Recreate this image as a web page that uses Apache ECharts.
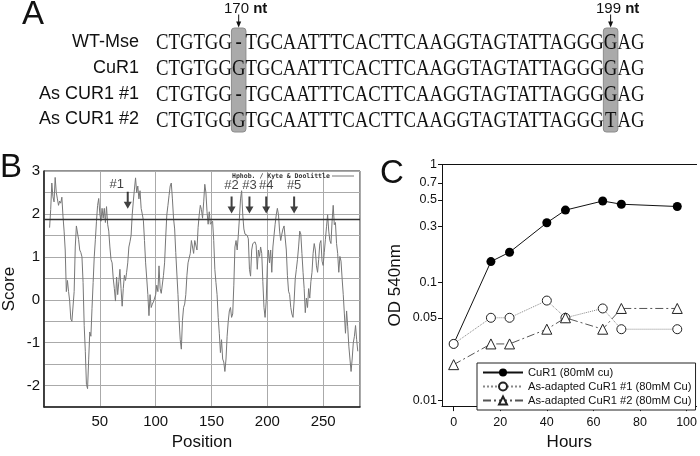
<!DOCTYPE html>
<html>
<head>
<meta charset="utf-8">
<script src="https://cdn.jsdelivr.net/npm/echarts@6/dist/echarts.min.js"></script>
<style>
  html, body { margin: 0; padding: 0; background: #fff; }
  #main { width: 700px; height: 456px; }
</style>
</head>
<body>
<div id="main"></div>
<script>
// ---- panel A: alignment ----
var rowNames = ['WT-Mse', 'CuR1', 'As CUR1 #1', 'As CUR1 #2'];
var sequences = [
  'CTGTGG-TGCAATTTCACTTCAAGGTAGTATTAGGGGAG',
  'CTGTGGGTGCAATTTCACTTCAAGGTAGTATTAGGGGAG',
  'CTGTGG-TGCAATTTCACTTCAAGGTAGTATTAGGGGAG',
  'CTGTGGGTGCAATTTCACTTCAAGGTAGTATTAGGGTAG'
];
var siteIndex = [6, 36];
var siteLabel = ['170', '199'];

// ---- panel B: Kyte & Doolittle hydrophobicity, positions 5..281 ----
var firstPos = 5;
var hydroScores = [
  1.68, 2.1, 2.72, 2.4, 2.28, 2.85, 2.5, 2.35, 2.2, 2.3,
  2.25, 2.39, 1.95, 1.6, 1.16, 0.19, 0.45, 0.19, -0.03, -0.45,
  -0.5, -0.48, 0.19, 1.23, 1.72, 1.68, 1.4, 1.16, 1.1, 1.0,
  0.4, -0.6, -1.2, -1.97, -2.07, -1.4, -0.75, -0.85, -0.2, 0.4,
  1.0, 1.4, 1.83, 2.2, 2.36, 2.0, 1.83, 2.13, 1.9, 2.13,
  1.8, 2.17, 1.76, 1.6, 1.23, 0.94, 0.86, 0.5, 0.26, -0.03,
  0.53, 0.12, 0.42, 0.71, 0.26, -0.15, 0.26, 0.57, 0.45, 0.64,
  0.86, 1.23, 1.35, 1.5, 1.98, 2.3, 2.58, 2.84, 2.5, 2.65,
  2.35, 2.54, 2.13, 2.0, 1.85, 1.38, 0.86, 0.5, 0.12, -0.37,
  0.12, -0.18, -0.1, -0.05, -0.03, 0.12, 0.34, 0.19, 0.79, 0.26,
  0.15, 0.15, 0.57, 0.86, 1.46, 1.98, 2.2, 2.43, 2.65, 2.72,
  2.35, 1.9, 1.65, 1.1, 0.6, 0.12, -0.48, -0.93, -1.15, -0.48,
  -0.18, -0.1, 0.12, 0.57, 0.86, 0.86, 1.08, 1.38, 1.42, 1.08,
  1.38, 1.38, 1.16, 1.68, 1.98, 2.2, 2.1, 1.9, 2.28, 2.69,
  2.5, 2.05, 1.76, 2.05, 1.76, 1.8, 1.83, 1.38, 0.71, 0.4,
  0.12, -0.41, -0.78, -1.23, -0.93, -1.38, -1.45, -1.67, -1.38, -0.85,
  -0.5, -0.26, -0.18, -0.41, -0.33, 0.34, 1.23, 1.38, 1.16, 1.5,
  1.9, 2.35, 2.54, 1.98, 1.65, 1.53, 1.53, 1.5, 1.42, 0.71,
  0.55, 1.16, 1.31, 1.35, 1.35, 1.27, 0.71, 1.16, 1.01, 1.23,
  1.08, 0.42, -0.18, -0.41, -0.03, 0.79, 1.16, 0.86, 1.16, 0.64,
  1.23, 1.5, 1.76, 1.98, 2.13, 1.98, 1.6, 1.38, 1.53, 1.65,
  1.72, 1.76, 1.16, 0.57, 0.2, 0.12, -0.18, -0.33, -0.41, -0.03,
  0.49, 0.71, 0.94, 1.23, 1.6, 1.53, 1.08, 0.64, 0.26, -0.3,
  0.04, -0.18, 0.26, 0.04, 0.42, 0.64, 1.08, 1.31, 1.16, 0.79,
  0.64, 0.94, 1.31, 1.38, 0.9, 0.8, 1.1, 1.4, 1.7, 1.98,
  1.6, 1.38, 1.31, 1.83, 2.2, 1.75, 1.8, 1.31, 1.08, 0.64,
  1.01, 0.9, 0.49, 0.12, -0.33, -0.78, -0.26, -0.63, -1.08, -1.38,
  -1.67, -1.38, -1.0, -0.85, -0.6, -0.93, -1.2
];
var cutoff = 1.87;
var arrowLabels = ['#1', '#2', '#3', '#4', '#5'];
var arrowPos = [75, 168, 184, 199, 224];
var arrowScore = [2.32, 2.21, 2.21, 2.21, 2.21];

// ---- panel C: growth curves ----
var hours = [0, 16, 24, 40, 48, 64, 72, 96];
var cur1 = [0.03, 0.15, 0.18, 0.32, 0.41, 0.49, 0.46, 0.44];
var adapted1 = [0.03, 0.05, 0.05, 0.07, 0.05, 0.06, 0.04, 0.04];
var adapted2 = [0.02, 0.03, 0.03, 0.04, 0.05, 0.04, 0.06, 0.06];
var seriesNames = ['CuR1 (80mM cu)', 'As-adapted CuR1 #1 (80mM Cu)', 'As-adapted CuR1 #2 (80mM Cu)'];
var hourTicks = [0, 20, 40, 60, 80, 100];
var odTicks = [0.01, 0.05, 0.1, 0.3, 0.5, 0.7, 1];
var odMin = 0.0089;

var SANS = 'Liberation Sans';
var SERIF = "'Liberation Serif', 'Times New Roman', 'DejaVu Serif', serif";
var SX = 0.78;
var ctx = document.createElement('canvas').getContext('2d');
ctx.font = '24px ' + SERIF;
function textW(s) { return ctx.measureText(s).width * SX; }

var seqX0 = 156;
var rowY = [42, 68, 94, 119.5];
var colW = textW('G');

function layoutRow(seq) {
  var parts = [], x = seqX0, prev = 0, cols = [];
  siteIndex.forEach(function (idx) {
    var s = seq.slice(prev, idx);
    parts.push({ text: s, x: x, align: 'left' });
    x += textW(s);
    cols.push(x);
    parts.push({ text: seq[idx], x: x + colW / 2, align: 'center' });
    x += colW;
    prev = idx + 1;
  });
  parts.push({ text: seq.slice(prev), x: x, align: 'left' });
  return { parts: parts, cols: cols };
}

var elements = [];
var cols = layoutRow(sequences[0]).cols;
cols.forEach(function (cx, i) {
  var mid = cx + colW / 2;
  elements.push({
    type: 'rect', z: 1,
    shape: { x: cx - 0.5, y: 28, width: colW + 1, height: 104, r: 3 },
    style: { fill: '#aaaaaa', stroke: '#8c8c8c', lineWidth: 1 }
  });
  elements.push({
    type: 'line', z: 2,
    shape: { x1: mid, y1: 14.5, x2: mid, y2: 23 },
    style: { stroke: '#111', lineWidth: 1 }
  });
  elements.push({
    type: 'polygon', z: 2,
    shape: { points: [[mid - 2.5, 21.5], [mid + 2.5, 21.5], [mid, 27.5]] },
    style: { fill: '#111' }
  });
  elements.push({
    type: 'text', z: 2, x: mid + 7, y: 8.5,
    style: {
      text: '{n|' + siteLabel[i] + '} {b|nt}',
      align: 'center', verticalAlign: 'middle', fill: '#111',
      fontSize: 15, fontFamily: SANS,
      rich: {
        n: { fontSize: 15, fontFamily: SANS, fill: '#111' },
        b: { fontSize: 15, fontFamily: SANS, fontWeight: 'bold', fill: '#111' }
      }
    }
  });
});
sequences.forEach(function (seq, r) {
  elements.push({
    type: 'text', z: 2, x: 139, y: rowY[r],
    style: { text: rowNames[r], fontSize: 18, fontFamily: SANS, fill: '#111', align: 'right', verticalAlign: 'middle' }
  });
  layoutRow(seq).parts.forEach(function (p) {
    elements.push({
      type: 'text', z: 3, x: p.x, y: rowY[r] + 1, scaleX: SX,
      style: { text: p.text, font: '24px ' + SERIF, fill: '#111', align: p.align, verticalAlign: 'middle' }
    });
  });
});
// panel letters
[['A', 22, 15], ['B', 0, 168], ['C', 380, 174]].forEach(function (l) {
  elements.push({
    type: 'text', z: 5, x: l[1], y: l[2],
    style: { text: l[0], fontSize: 33, fontFamily: SANS, fill: '#111', align: 'left', verticalAlign: 'middle' }
  });
});
// panel B key
elements.push({
  type: 'text', z: 5, x: 232, y: 176,
  style: { text: 'Hphob. / Kyte & Doolittle', fontSize: 6.5, fontWeight: 'bold', fontFamily: 'DejaVu Sans Mono', fill: '#333', align: 'left', verticalAlign: 'middle' }
});
elements.push({
  type: 'line', z: 5,
  shape: { x1: 332, y1: 176, x2: 354, y2: 176 },
  style: { stroke: '#777', lineWidth: 1 }
});

var chart = echarts.init(document.getElementById('main'), null, { renderer: 'canvas' });

chart.setOption({
  animation: false,
  backgroundColor: '#fff',
  textStyle: { fontFamily: SANS, color: '#111' },
  graphic: { elements: elements },
  legend: {
    data: seriesNames,
    orient: 'vertical',
    left: 477, top: 363,
    itemWidth: 40, itemHeight: 10, itemGap: 3,
    padding: [4, 4, 4, 5],
    borderColor: '#222', borderWidth: 1,
    backgroundColor: '#fff',
    selectedMode: false,
    textStyle: { fontSize: 11.2, color: '#111', fontFamily: SANS }
  },
  grid: [
    { left: 43, top: 171, width: 317, height: 243, show: true, borderColor: '#222', borderWidth: 1, backgroundColor: 'transparent' },
    { left: 442, top: 164.5, width: 255, height: 252 }
  ],
  xAxis: [
    {
      gridIndex: 0, type: 'value', min: 0, max: 283, interval: 50,
      name: 'Position', nameLocation: 'middle', nameGap: 26,
      nameTextStyle: { fontSize: 17, color: '#111' },
      axisLine: { onZero: false, lineStyle: { color: '#222', width: 1.5 } },
      axisTick: { show: false },
      axisLabel: {
        fontSize: 15, color: '#111', margin: 7, showMaxLabel: false,
        formatter: function (v) { return (v > 0 && v % 50 === 0) ? String(v) : ''; }
      },
      splitLine: { show: true, lineStyle: { color: '#aaa', width: 1 } }
    },
    {
      gridIndex: 1, type: 'value', min: -5, max: 104.3,
      name: 'Hours', nameLocation: 'middle', nameGap: 23,
      nameTextStyle: { fontSize: 17, color: '#111' },
      axisLine: { onZero: false, lineStyle: { color: '#111', width: 1 } },
      axisTick: { show: true, customValues: hourTicks, length: 5, lineStyle: { color: '#111' } },
      axisLabel: { customValues: hourTicks, fontSize: 12.5, color: '#111', margin: 10 },
      splitLine: { show: false }
    },
    {
      gridIndex: 1, type: 'value', position: 'top', min: -5, max: 104.3,
      axisLine: { show: true, onZero: false, lineStyle: { color: '#111', width: 1 } },
      axisTick: { show: false }, axisLabel: { show: false }, splitLine: { show: false }
    }
  ],
  yAxis: [
    {
      gridIndex: 0, type: 'value', min: -2.5, max: 3, interval: 0.5,
      name: 'Score', nameLocation: 'middle', nameGap: 26,
      nameTextStyle: { fontSize: 17, color: '#111' },
      axisLine: { show: true, onZero: false, lineStyle: { color: '#222', width: 1.5 } },
      axisTick: { show: false },
      axisLabel: { fontSize: 15, color: '#111', margin: 4, formatter: function (v) { return Math.abs(v - Math.round(v)) < 1e-6 ? String(Math.round(v)) : ''; } },
      splitLine: { show: true, lineStyle: { color: '#aaa', width: 1 } }
    },
    {
      gridIndex: 1, type: 'value', min: Math.log10(odMin), max: 0,
      name: 'OD 540nm', nameLocation: 'middle', nameGap: 38,
      nameTextStyle: { fontSize: 17, color: '#111' },
      axisLine: { show: true, onZero: false, lineStyle: { color: '#111', width: 1 } },
      axisTick: { show: true, customValues: odTicks.map(Math.log10), length: 4, lineStyle: { color: '#111' } },
      axisLabel: {
        customValues: odTicks.map(Math.log10), fontSize: 12.5, color: '#111', margin: 5,
        formatter: function (v) { return String(+Math.pow(10, v).toPrecision(2)); }
      },
      splitLine: { show: false }
    }
  ],
  series: [
    {
      type: 'line', xAxisIndex: 0, yAxisIndex: 0,
      data: hydroScores.map(function (s, i) { return [firstPos + i, s]; }),
      symbol: 'none', lineStyle: { color: '#777', width: 1 }, z: 3,
      markLine: {
        silent: true, symbol: 'none', label: { show: false },
        lineStyle: { color: '#333', width: 1.3, type: 'solid' },
        data: [{ yAxis: cutoff }]
      }
    },
    {
      type: 'scatter', xAxisIndex: 0, yAxisIndex: 0, z: 4,
      symbol: 'path://M3,0L5,0L5,10L8,10L4,17L0,10L3,10Z',
      symbolSize: [8, 17],
      itemStyle: { color: '#111' },
      label: {
        show: true, position: 'top', fontSize: 13, color: '#111',
        formatter: function (p) { return arrowLabels[p.dataIndex]; }
      },
      data: arrowPos.map(function (p, i) {
        return {
          value: [p, arrowScore[i]],
          label: i === 0 ? { offset: [-11, 0], distance: 1 } : { distance: 4 }
        };
      })
    },
    {
      name: seriesNames[0], type: 'line', xAxisIndex: 1, yAxisIndex: 1,
      data: hours.map(function (h, i) { return [h, Math.log10(cur1[i])]; }),
      symbol: 'circle', symbolSize: 9,
      itemStyle: { color: '#000' },
      lineStyle: { color: '#111', width: 1 }
    },
    {
      name: seriesNames[1], type: 'line', xAxisIndex: 1, yAxisIndex: 1,
      data: hours.map(function (h, i) { return [h, Math.log10(adapted1[i])]; }),
      symbol: 'circle', symbolSize: 9,
      itemStyle: { color: '#fff', borderColor: '#222', borderWidth: 1 },
      lineStyle: { color: '#888', width: 1, type: 'dotted' }
    },
    {
      name: seriesNames[2], type: 'line', xAxisIndex: 1, yAxisIndex: 1,
      data: hours.map(function (h, i) { return [h, Math.log10(adapted2[i])]; }),
      symbol: 'triangle', symbolSize: 10,
      itemStyle: { color: '#fff', borderColor: '#222', borderWidth: 1 },
      lineStyle: { color: '#555', width: 1, type: [8, 3, 2, 3] }
    }
  ]
});
</script>
</body>
</html>
